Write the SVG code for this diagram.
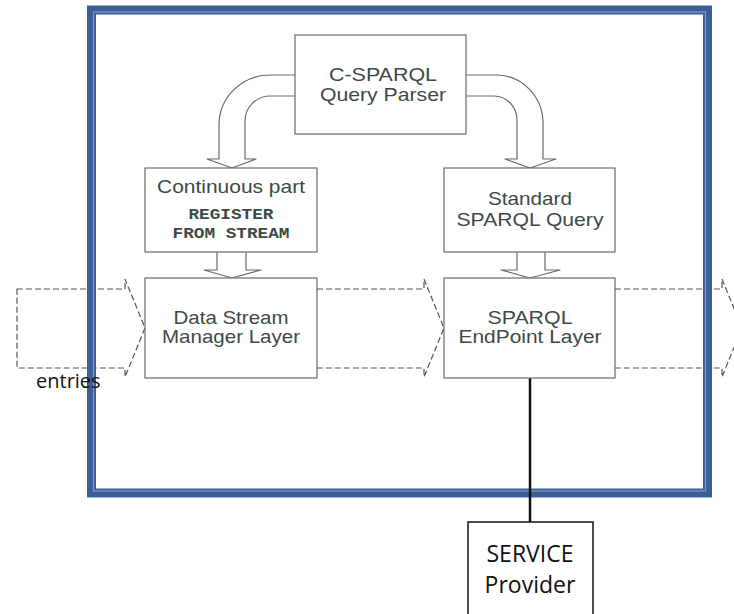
<svg xmlns="http://www.w3.org/2000/svg" width="734" height="614" viewBox="0 0 734 614">
  <style>
    .box { fill: #ffffff; stroke: #6a6a6a; stroke-width: 1.2; }
    .blk { fill: #ffffff; stroke: #6a6a6a; stroke-width: 1.2; stroke-linejoin: round; }
    .flow { fill: none; stroke: #555555; stroke-width: 1.2; stroke-dasharray: 6 3; }
    .lbl { font-family: "Liberation Sans", Arial, sans-serif; font-size: 18.5px; fill: #3c4a44; text-anchor: middle; }
    .code { font-family: "Liberation Mono", "Courier New", monospace; font-size: 14.5px; font-weight: bold; fill: #3c4a44; text-anchor: middle; }
    .cal { font-family: "Open Sans", "Noto Sans", sans-serif; fill: #111111; }
  </style>

  <rect width="734" height="614" fill="#ffffff"/>

  <!-- data flow block arrows (dashed), drawn below the frame -->
  <g id="flows">
    <path class="flow" d="M17,289 H125 V279 L145,328 L125,377 V368 H17 Z"/>
    <path class="flow" d="M317,289 H424 V279 L444,328 L424,377 V368 H317"/>
    <path class="flow" d="M615,289 H722 V279 L742,328 L722,377 V368 H615"/>
  </g>

  <!-- system boundary frame -->
  <g id="frame">
    <rect x="91.5" y="10" width="616" height="483" fill="none" stroke="#3b5e94" stroke-width="9"/>
    <rect x="93.5" y="12" width="612" height="479" fill="none" stroke="#7d9bc9" stroke-width="1.2"/>
  </g>

  <!-- connectors -->
  <g id="connectors">
    <!-- parser to continuous part -->
    <path class="blk" d="M295,75 H270 A51,50 0 0 0 219,125 V159 H207 L232,168 L256,159 H245 V121 A25,25 0 0 1 270,96 H295"/>
    <!-- parser to standard query -->
    <path class="blk" d="M466,75 H496 A47,48 0 0 1 543,123 V159 H556 L530,168 L505,159 H517 V120 A23,24 0 0 0 494,96 H466"/>
    <!-- continuous part to data stream manager -->
    <path class="blk" d="M217,252 V270 H204 L232,278 L261,270 H246 V252"/>
    <!-- standard query to endpoint -->
    <path class="blk" d="M517,252 V270 H501 L530,278 L560,270 H545 V252"/>
    <!-- endpoint to service provider -->
    <line x1="530" y1="378" x2="530" y2="522" stroke="#111111" stroke-width="2.5"/>
  </g>

  <g id="parser">
    <rect class="box" x="295" y="35" width="171" height="99"/>
    <text class="lbl" x="383" y="81" textLength="108" lengthAdjust="spacingAndGlyphs">C-SPARQL</text>
    <text class="lbl" x="383" y="101" textLength="126" lengthAdjust="spacingAndGlyphs">Query Parser</text>
  </g>

  <g id="continuous">
    <rect class="box" x="145" y="168" width="172" height="84"/>
    <text class="lbl" x="231" y="193" textLength="148" lengthAdjust="spacingAndGlyphs">Continuous part</text>
    <text class="code" x="231" y="219" textLength="85" lengthAdjust="spacingAndGlyphs">REGISTER</text>
    <text class="code" x="231" y="238" textLength="117" lengthAdjust="spacingAndGlyphs">FROM STREAM</text>
  </g>

  <g id="standard">
    <rect class="box" x="444" y="168" width="171" height="84"/>
    <text class="lbl" x="530" y="205" textLength="84" lengthAdjust="spacingAndGlyphs">Standard</text>
    <text class="lbl" x="530" y="226" textLength="147" lengthAdjust="spacingAndGlyphs">SPARQL Query</text>
  </g>

  <g id="dsm">
    <rect class="box" x="145" y="278" width="172" height="100"/>
    <text class="lbl" x="231" y="324" textLength="115" lengthAdjust="spacingAndGlyphs">Data Stream</text>
    <text class="lbl" x="231" y="343" textLength="138" lengthAdjust="spacingAndGlyphs">Manager Layer</text>
  </g>

  <g id="endpoint">
    <rect class="box" x="444" y="278" width="171" height="100"/>
    <text class="lbl" x="530" y="324" textLength="85" lengthAdjust="spacingAndGlyphs">SPARQL</text>
    <text class="lbl" x="530" y="343" textLength="143" lengthAdjust="spacingAndGlyphs">EndPoint Layer</text>
  </g>

  <g id="service">
    <rect x="468" y="522" width="125" height="100" fill="#ffffff" stroke="#111111" stroke-width="1.5"/>
    <text class="cal" x="530" y="562" font-size="23" text-anchor="middle">SERVICE</text>
    <text class="cal" x="530" y="593" font-size="23" text-anchor="middle">Provider</text>
  </g>

  <text id="entries" class="cal" x="36" y="388" font-size="20">entries</text>
</svg>
